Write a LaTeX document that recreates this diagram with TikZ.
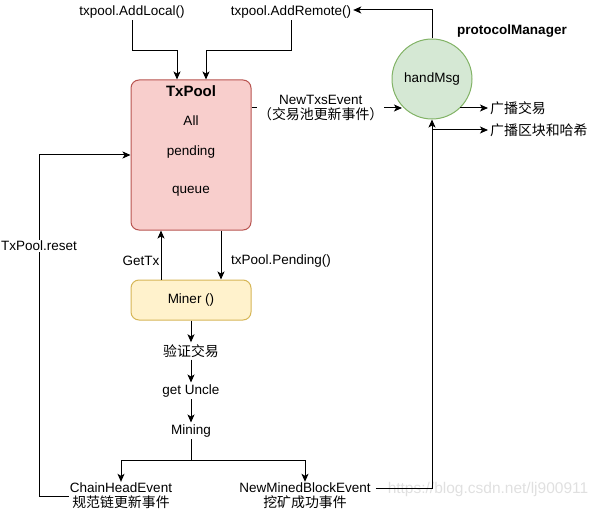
\documentclass[tikz,border=0pt]{standalone}
\usepackage{fontspec}
\setmainfont{Liberation Sans}
\newfontfamily\cjk[Scale=1.03]{Noto Sans CJK SC}
\usetikzlibrary{arrows.meta,calc}
\definecolor{poolfill}{HTML}{F8CECC}
\definecolor{pooldraw}{HTML}{B85450}
\definecolor{minerfill}{HTML}{FFF2CC}
\definecolor{minerdraw}{HTML}{D6B656}
\definecolor{handfill}{HTML}{D5E8D4}
\definecolor{handdraw}{HTML}{82B366}
\tikzset{
  txt/.style={inner sep=2pt, font=\fontsize{13.5}{16}\selectfont},
  boldtxt/.style={inner sep=2pt, font=\fontsize{13.5}{16}\selectfont\bfseries},
  poolbox/.style={draw=pooldraw, fill=poolfill, rounded corners=8pt, minimum width=120pt, minimum height=150pt, line width=1pt},
  minerbox/.style={draw=minerdraw, fill=minerfill, rounded corners=8pt, minimum width=120pt, minimum height=40pt, line width=1pt, font=\fontsize{13.5}{16}\selectfont},
  handcirc/.style={circle, draw=handdraw, fill=handfill, minimum size=80pt, inner sep=0pt, line width=1pt, font=\fontsize{13.5}{16}\selectfont},
  conn/.style={line width=1pt, -{Stealth[length=8pt,width=7pt,inset=2pt]}},
  plain/.style={line width=1pt}
}
\begin{document}
\begin{tikzpicture}[x=1pt,y=-1pt]
\useasboundingbox (0,0) rectangle (598,511);

% main shapes
\node[poolbox] (pool) at (191,155) {};
\node[boldtxt, font=\fontsize{15}{18}\selectfont\bfseries] (pooltitle) at (191,91) {TxPool};
\node[txt] (all) at (191,121) {All};
\node[txt] (pending) at (191,152) {pending};
\node[txt] (queue) at (191,191) {queue};

\node[minerbox] (miner) at (191,300) {Miner ()};
\node[handcirc] (hand) at (432,79) {handMsg};
\node[boldtxt] (pm) at (512,31) {protocolManager};

% texts
\node[txt] (local) at (132,12) {txpool.AddLocal()};
\node[txt] (remote) at (291,12) {txpool.AddRemote()};
\node[txt, anchor=west] (bt) at (488,108) {\cjk 广播交易};
\node[txt, anchor=west] (bb) at (488,130) {\cjk 广播区块和哈希};
\node[txt] (verify) at (191,351) {\cjk 验证交易};
\node[txt] (uncle) at (191,391) {get Uncle};
\node[txt] (mining) at (191,431) {Mining};
\node[txt, align=center, inner sep=1pt] (chain) at (121,496) {ChainHeadEvent\\[-1pt]{\cjk 规范链更新事件}};
\node[txt, align=center, inner sep=1pt] (mined) at (305,496) {NewMinedBlockEvent\\[-1pt]{\cjk 挖矿成功事件}};
\node[txt, fill=white, inner sep=1pt] (reset) at (39,246) {TxPool.reset};
\node[txt] (gettx) at (141,261) {GetTx};
\node[txt] (pendfn) at (281,261) {txPool.Pending()};
\node[txt, text=black!12, font=\fontsize{15.5}{18}\selectfont] (wm) at (488,489) {https://blog.csdn.net/lj900911};

\coordinate (ntin) at (402,108);
\coordinate (btout) at (460,108);
\coordinate (split) at (191,460);

% connectors
\draw[conn] (local.south) -- ++(0,30) -| ([xshift=-14pt]pool.north);
\draw[conn] (remote.south) -- ++(0,30) -| ([xshift=15pt]pool.north);
\draw[conn] (hand.north) |- ([yshift=2pt]remote.east);
\draw[conn] (pool.east |- ntin) -- node[txt, fill=white, align=center, inner sep=1pt, xshift=-6pt] (newtx) {NewTxsEvent\\[-1pt]{\cjk （交易池更新事件）}} (ntin);
\draw[conn] (btout) -- (bt.west);
\draw[conn] (hand.south |- bb.west) -- (bb.west);
\draw[conn] ([yshift=8pt,xshift=4pt]mined.east) -| (hand.south);
\draw[plain] (chain.west) -| (reset.south);
\draw[conn] (reset.north) |- (pool.west);
\draw[conn] ([xshift=-30pt]miner.north) -- ([xshift=-30pt]pool.south);
\draw[conn] ([xshift=30pt]pool.south) -- ([xshift=30pt]miner.north);
\draw[conn] (miner.south) -- (verify.north);
\draw[conn] (verify.south) -- (uncle.north);
\draw[conn] (uncle.south) -- (mining.north);
\draw[plain] (mining.south) -- (split);
\draw[conn] (split) -| (chain.north);
\draw[conn] (split) -| (mined.north);
\end{tikzpicture}
\end{document}
